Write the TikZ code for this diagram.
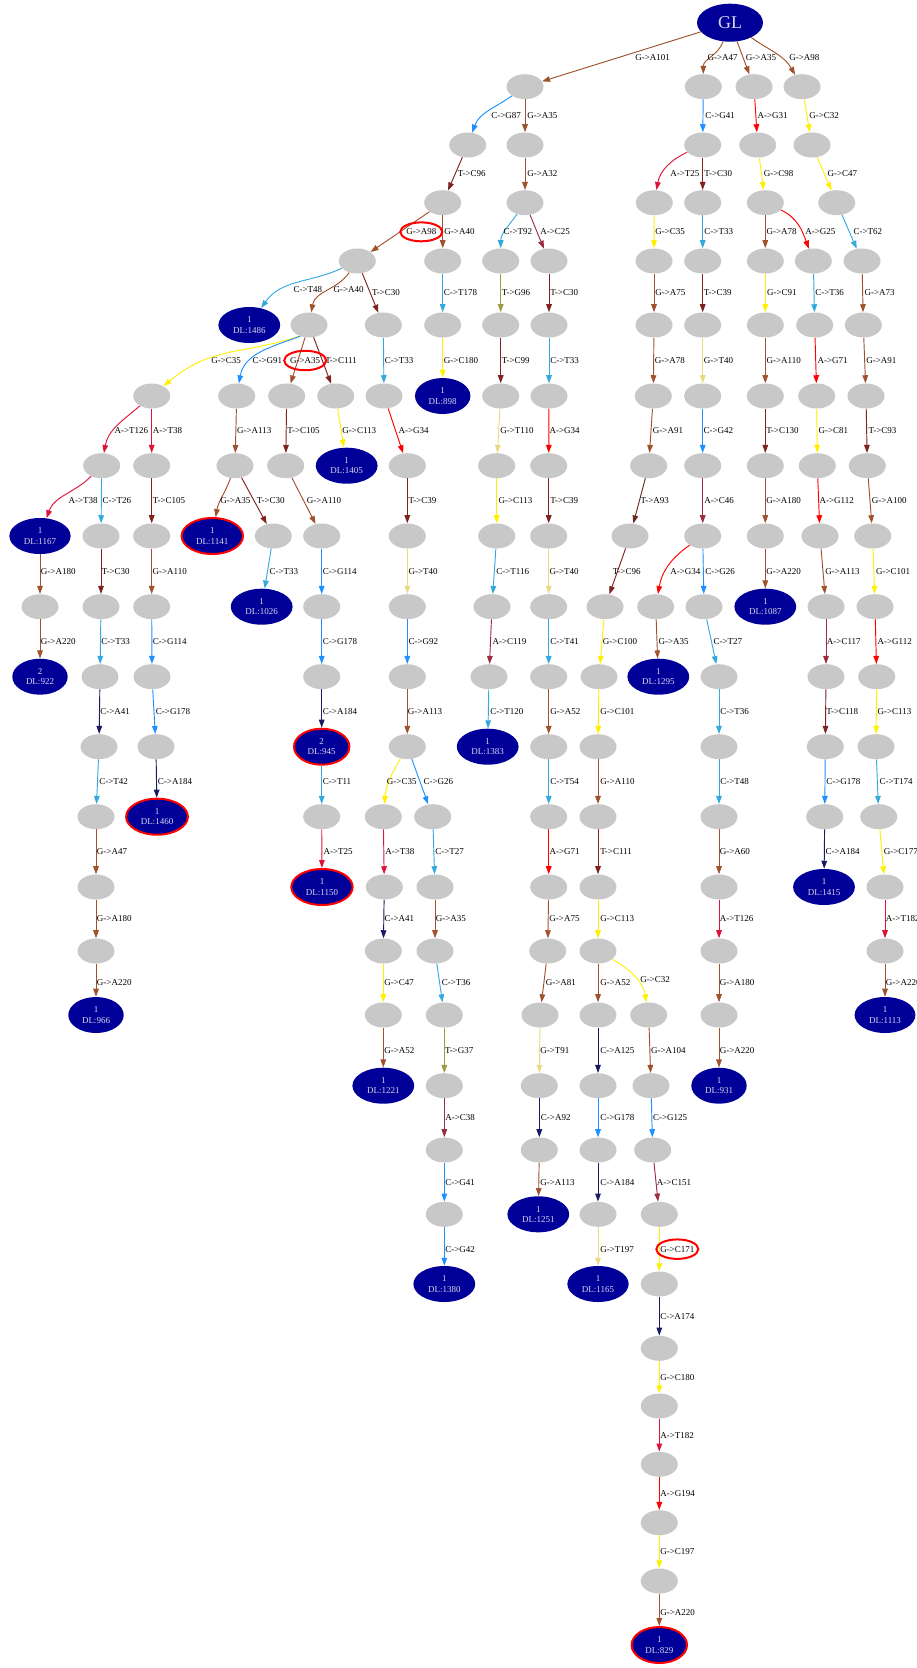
\documentclass[tikz,border=0pt]{standalone}
\usepackage{fontspec}
\setmainfont{Liberation Serif}
\usetikzlibrary{calc,shapes.geometric,arrows.meta}

\definecolor{navyfill}{RGB}{0,0,153}
\definecolor{nodegray}{RGB}{200,200,200}
\definecolor{dltext}{RGB}{215,215,232}
% one colour per substitution type
\definecolor{cGA}{HTML}{A0522D}
\definecolor{cCG}{HTML}{1E90FF}
\definecolor{cTC}{HTML}{7F2222}
\definecolor{cCT}{HTML}{33AADD}
\definecolor{cAT}{HTML}{DC143C}
\definecolor{cAG}{HTML}{FF0000}
\definecolor{cGC}{HTML}{FFF000}
\definecolor{cGT}{HTML}{E8DA84}
\definecolor{cAC}{HTML}{9B2D40}
\definecolor{cCA}{HTML}{1A1A66}
\definecolor{cTG}{HTML}{A09A40}
\definecolor{cTA}{HTML}{6B2A20}

\newcommand{\labfont}{\fontsize{6.75}{7.7}\selectfont}

% straight connector with its label beside the midpoint
\newcommand{\tEdge}[5]{%
  \draw[#4] (#1) -- (#2);
  \node[lbl] (l-#2) at ($(#1)!0.5!(#2)+(#5)$) {#3};}
% curved connector with its label at a given point
\newcommand{\cEdge}[6]{%
  \draw[#4] (#1) to[#6] (#2);
  \node[lbl] (l-#2) at (#5) {#3};}

\tikzset{
  gnode/.style={ellipse, fill=nodegray, minimum width=27.75pt, minimum height=18.75pt, inner sep=0pt},
  dlnode/.style={ellipse, fill=navyfill, text=dltext, font=\labfont, align=center,
                 inner xsep=4.2pt, inner ysep=0.5pt, minimum height=27pt},
  hitnode/.style={dlnode, draw=red, line width=1.5pt},
  glnode/.style={ellipse, fill=navyfill, text=dltext, minimum width=49.5pt, minimum height=28.5pt,
                 inner sep=0pt, font=\fontsize{13.5}{15}\selectfont},
  lbl/.style={anchor=west, inner sep=0pt, text=black, font=\labfont},
  ring/.style={draw=red, line width=1.5pt},
  conn/.style={line width=0.7pt, -{Triangle[length=6pt,width=4.2pt]}},
  eGA/.style={conn, draw=cGA}, eCG/.style={conn, draw=cCG}, eTC/.style={conn, draw=cTC},
  eCT/.style={conn, draw=cCT}, eAT/.style={conn, draw=cAT}, eAG/.style={conn, draw=cAG},
  eGC/.style={conn, draw=cGC}, eGT/.style={conn, draw=cGT}, eAC/.style={conn, draw=cAC},
  eCA/.style={conn, draw=cCA}, eTG/.style={conn, draw=cTG}, eTA/.style={conn, draw=cTA},
}

\begin{document}
\begin{tikzpicture}[x=0.75pt,y=-0.75pt]
\fill[white] (0,0) rectangle (917,1668);
\useasboundingbox (0,0) rectangle (917,1668);

% ---------- nodes ----------
\node[glnode] (gl) at (730,22.7) {GL};

\node[gnode] (n1a) at (525,86.7) {};
\node[gnode] (n1b) at (703.3,86.7) {};
\node[gnode] (n1c) at (754,86.7) {};
\node[gnode] (n1d) at (802,86.7) {};

\node[gnode] (n2a) at (467.7,145) {};
\node[gnode] (n2b) at (525,145) {};
\node[gnode] (n2c) at (702.7,145) {};
\node[gnode] (n2d) at (757.7,145) {};
\node[gnode] (n2e) at (812,145) {};

\node[gnode] (n3a) at (442.7,202.7) {};
\node[gnode] (n3b) at (525,202.7) {};
\node[gnode] (n3c) at (654.3,202.7) {};
\node[gnode] (n3d) at (702.7,202.7) {};
\node[gnode] (n3e) at (765.3,202.7) {};
\node[gnode] (n3f) at (836.7,202.7) {};

\node[gnode] (n4a) at (357.3,261) {};
\node[gnode] (n4b) at (442.7,261) {};
\node[gnode] (n4c) at (500.7,261) {};
\node[gnode] (n4d) at (549,261) {};
\node[gnode] (n4e) at (654,261) {};
\node[gnode] (n4f) at (702.7,261) {};
\node[gnode] (n4g) at (765.3,261) {};
\node[gnode] (n4h) at (813.3,261) {};
\node[gnode] (n4i) at (862,261) {};

\node[dlnode] (n5a) at (249.3,325) {1\\DL:1486};
\node[gnode] (n5b) at (309,325) {};
\node[gnode] (n5c) at (383.3,325) {};
\node[gnode] (n5d) at (442.7,325) {};
\node[gnode] (n5e) at (500.7,325) {};
\node[gnode] (n5f) at (549,325) {};
\node[gnode] (n5g) at (654,325) {};
\node[gnode] (n5h) at (702.7,325) {};
\node[gnode] (n5i) at (765.3,325) {};
\node[gnode] (n5j) at (814.7,325) {};
\node[gnode] (n5k) at (863.3,325) {};

\node[gnode] (n6a) at (151.7,396) {};
\node[gnode] (n6b) at (236.7,396) {};
\node[gnode] (n6c) at (286.7,396) {};
\node[gnode] (n6d) at (335.7,396) {};
\node[gnode] (n6e) at (384,396) {};
\node[dlnode] (n6f) at (442.7,396) {1\\DL:898};
\node[gnode] (n6g) at (500.7,396) {};
\node[gnode] (n6h) at (549,396) {};
\node[gnode] (n6i) at (653.3,396) {};
\node[gnode] (n6j) at (702.7,396) {};
\node[gnode] (n6k) at (765.3,396) {};
\node[gnode] (n6l) at (816.7,396) {};
\node[gnode] (n6m) at (866,396) {};

\node[gnode] (n7a) at (101.7,465.7) {};
\node[gnode] (n7b) at (151.7,465.7) {};
\node[gnode] (n7c) at (235,465.7) {};
\node[gnode] (n7d) at (285.7,465.7) {};
\node[dlnode] (n7e) at (346.7,465.7) {1\\DL:1405};
\node[gnode] (n7f) at (407.3,465.7) {};
\node[gnode] (n7g) at (496.7,465.7) {};
\node[gnode] (n7h) at (548.7,465.7) {};
\node[gnode] (n7i) at (648.7,465.7) {};
\node[gnode] (n7j) at (702.7,465.7) {};
\node[gnode] (n7k) at (765.3,465.7) {};
\node[gnode] (n7l) at (817.3,465.7) {};
\node[gnode] (n7m) at (867.3,465.7) {};

\node[dlnode] (n8a) at (40,536) {1\\DL:1167};
\node[gnode] (n8b) at (101,536) {};
\node[gnode] (n8c) at (151.7,536) {};
\node[hitnode] (n8d) at (212.3,536) {1\\DL:1141};
\node[gnode] (n8e) at (273.3,536) {};
\node[gnode] (n8f) at (321.7,536) {};
\node[gnode] (n8g) at (407.3,536) {};
\node[gnode] (n8h) at (496.7,536) {};
\node[gnode] (n8i) at (548.7,536) {};
\node[gnode] (n8j) at (630,536) {};
\node[gnode] (n8k) at (702.7,536) {};
\node[gnode] (n8l) at (765.3,536) {};
\node[gnode] (n8m) at (820,536) {};
\node[gnode] (n8n) at (872.7,536) {};

\node[gnode] (n9a) at (40,606.7) {};
\node[gnode] (n9b) at (101,606.7) {};
\node[gnode] (n9c) at (151.7,606.7) {};
\node[dlnode] (n9d) at (261.7,606.7) {1\\DL:1026};
\node[gnode] (n9e) at (321.7,606.7) {};
\node[gnode] (n9f) at (407.3,606.7) {};
\node[gnode] (n9g) at (492,606.7) {};
\node[gnode] (n9h) at (548.7,606.7) {};
\node[gnode] (n9i) at (605,606.7) {};
\node[gnode] (n9j) at (655.7,606.7) {};
\node[gnode] (n9k) at (704,606.7) {};
\node[dlnode] (n9l) at (765.3,606.7) {1\\DL:1087};
\node[gnode] (n9m) at (826,606.7) {};
\node[gnode] (n9n) at (875,606.7) {};

\node[dlnode] (n10a) at (40,676.7) {2\\DL:922};
\node[gnode] (n10b) at (100,676.7) {};
\node[gnode] (n10c) at (152,676.7) {};
\node[gnode] (n10d) at (321.7,676.7) {};
\node[gnode] (n10e) at (407.3,676.7) {};
\node[gnode] (n10f) at (489,676.7) {};
\node[gnode] (n10g) at (548.7,676.7) {};
\node[gnode] (n10h) at (599,676.7) {};
\node[dlnode] (n10i) at (658.3,676.7) {1\\DL:1295};
\node[gnode] (n10j) at (719,676.7) {};
\node[gnode] (n10k) at (826,676.7) {};
\node[gnode] (n10l) at (876.7,676.7) {};

\node[gnode] (n11a) at (99,746.7) {};
\node[gnode] (n11b) at (156,746.7) {};
\node[hitnode] (n11c) at (321.7,746.7) {2\\DL:945};
\node[gnode] (n11d) at (407.3,746.7) {};
\node[dlnode] (n11e) at (487.7,746.7) {1\\DL:1383};
\node[gnode] (n11f) at (548.7,746.7) {};
\node[gnode] (n11g) at (598,746.7) {};
\node[gnode] (n11h) at (719,746.7) {};
\node[gnode] (n11i) at (825.3,746.7) {};
\node[gnode] (n11j) at (876,746.7) {};

\node[gnode] (n12a) at (96,816.7) {};
\node[hitnode] (n12b) at (157,816.7) {1\\DL:1460};
\node[gnode] (n12c) at (321.7,816.7) {};
\node[gnode] (n12d) at (383.3,816.7) {};
\node[gnode] (n12e) at (432.7,816.7) {};
\node[gnode] (n12f) at (548.7,816.7) {};
\node[gnode] (n12g) at (598,816.7) {};
\node[gnode] (n12h) at (719,816.7) {};
\node[gnode] (n12i) at (824.7,816.7) {};
\node[gnode] (n12j) at (878.7,816.7) {};

\node[gnode] (n13a) at (96,887) {};
\node[hitnode] (n13b) at (322,887) {1\\DL:1150};
\node[gnode] (n13c) at (384.3,887) {};
\node[gnode] (n13d) at (435,887) {};
\node[gnode] (n13e) at (548.7,887) {};
\node[gnode] (n13f) at (598,887) {};
\node[gnode] (n13g) at (719,887) {};
\node[dlnode] (n13h) at (824,887) {1\\DL:1415};
\node[gnode] (n13i) at (885,887) {};

\node[gnode] (n14a) at (96,951) {};
\node[gnode] (n14b) at (383.3,951) {};
\node[gnode] (n14c) at (435,951) {};
\node[gnode] (n14d) at (547.7,951) {};
\node[gnode] (n14e) at (598,951) {};
\node[gnode] (n14f) at (719,951) {};
\node[gnode] (n14g) at (885,951) {};

\node[dlnode] (n15a) at (96,1015) {1\\DL:966};
\node[gnode] (n15b) at (383.3,1015) {};
\node[gnode] (n15c) at (444.3,1015) {};
\node[gnode] (n15d) at (540,1015) {};
\node[gnode] (n15e) at (598,1015) {};
\node[gnode] (n15f) at (648.7,1015) {};
\node[gnode] (n15g) at (719,1015) {};
\node[dlnode] (n15h) at (885,1015) {1\\DL:1113};

\node[dlnode] (n16a) at (383.3,1085.7) {1\\DL:1221};
\node[gnode] (n16b) at (444.3,1085.7) {};
\node[gnode] (n16c) at (539.3,1085.7) {};
\node[gnode] (n16d) at (598,1085.7) {};
\node[gnode] (n16e) at (651,1085.7) {};
\node[dlnode] (n16f) at (719,1085.7) {1\\DL:931};

\node[gnode] (n17a) at (444.3,1150) {};
\node[gnode] (n17b) at (539.3,1150) {};
\node[gnode] (n17c) at (598,1150) {};
\node[gnode] (n17d) at (652.7,1150) {};

\node[gnode] (n18a) at (444.3,1214.3) {};
\node[dlnode] (n18b) at (538.3,1214.3) {1\\DL:1251};
\node[gnode] (n18c) at (598,1214.3) {};
\node[gnode] (n18d) at (659.3,1214.3) {};

\node[dlnode] (n19a) at (444.3,1284) {1\\DL:1380};
\node[dlnode] (n19b) at (598,1284) {1\\DL:1165};
\node[gnode] (n19c) at (659.3,1284) {};

\node[gnode] (n20) at (659.3,1348.3) {};
\node[gnode] (n21) at (659.3,1406) {};
\node[gnode] (n22) at (659.3,1464.3) {};
\node[gnode] (n23) at (659.3,1522.7) {};
\node[gnode] (n24) at (659.3,1581) {};
\node[hitnode] (n25) at (659.3,1645) {1\\DL:829};

% ---------- connectors ----------
\tEdge{gl}{n1a}{G->A101}{eGA}{7.5,3}
\cEdge{gl}{n1b}{G->A47}{eGA}{707.3,57.7}{out=250,in=90}
\tEdge{gl}{n1c}{G->A35}{eGA}{3.7,3}
\cEdge{gl}{n1d}{G->A98}{eGA}{789,57.7}{out=-35,in=120}

\cEdge{n1a}{n2a}{C->G87}{eCG}{491,116}{out=215,in=70}
\tEdge{n1a}{n2b}{G->A35}{eGA}{2,0}
\tEdge{n1b}{n2c}{C->G41}{eCG}{2,0}
\tEdge{n1c}{n2d}{A->G31}{eAG}{1.5,0}
\tEdge{n1d}{n2e}{G->C32}{eGC}{2,0}

\tEdge{n2a}{n3a}{T->C96}{eTC}{2.5,0}
\tEdge{n2b}{n3b}{G->A32}{eGA}{2,0}
\cEdge{n2c}{n3c}{A->T25}{eAT}{670,174}{out=205,in=80}
\tEdge{n2c}{n3d}{T->C30}{eTC}{1.5,0}
\tEdge{n2d}{n3e}{G->C98}{eGC}{2,0}
\tEdge{n2e}{n3f}{G->C47}{eGC}{3,0}

\tEdge{n3a}{n4a}{G->A98}{eGA}{6,0}
\tEdge{n3a}{n4b}{G->A40}{eGA}{1.5,0}
\cEdge{n3b}{n4c}{C->T92}{eCT}{503.3,232}{out=235,in=90}
\tEdge{n3b}{n4d}{A->C25}{eAC}{3,0}
\tEdge{n3c}{n4e}{G->C35}{eGC}{1,0}
\tEdge{n3d}{n4f}{C->T33}{eCT}{1.5,0}
\tEdge{n3e}{n4g}{G->A78}{eGA}{1,0}
\cEdge{n3e}{n4h}{A->G25}{eAG}{805,232}{out=-25,in=110}
\tEdge{n3f}{n4i}{C->T62}{eCT}{4,0}

\cEdge{n4a}{n5a}{C->T48}{eCT}{293.3,290}{out=205,in=55}
\cEdge{n4a}{n5b}{G->A40}{eGA}{333.3,290}{out=235,in=80}
\tEdge{n4a}{n5c}{T->C30}{eTC}{1.5,0}
\tEdge{n4b}{n5d}{C->T178}{eCT}{1,0}
\tEdge{n4c}{n5e}{T->G96}{eTG}{1,0}
\tEdge{n4d}{n5f}{T->C30}{eTC}{1,0}
\tEdge{n4e}{n5g}{G->A75}{eGA}{1,0}
\tEdge{n4f}{n5h}{T->C39}{eTC}{1,0}
\tEdge{n4g}{n5i}{G->C91}{eGC}{1.5,0}
\tEdge{n4h}{n5j}{C->T36}{eCT}{1,0}
\tEdge{n4i}{n5k}{G->A73}{eGA}{1.7,0}

\cEdge{n5b.230}{n6a}{G->C35}{eGC}{211,361}{out=198,in=40,looseness=1.1}
\cEdge{n5b.232}{n6b}{C->G91}{eCG}{252.3,361}{out=200,in=80}
\tEdge{n5b}{n6c}{G->A35}{eGA}{-8,0}
\tEdge{n5b}{n6d}{T->C111}{eTC}{2.7,0}
\tEdge{n5c}{n6e}{C->T33}{eCT}{1,0}
\tEdge{n5d}{n6f}{G->C180}{eGC}{1,0}
\tEdge{n5e}{n6g}{T->C99}{eTC}{1,0}
\tEdge{n5f}{n6h}{C->T33}{eCT}{1,0}
\tEdge{n5g}{n6i}{G->A78}{eGA}{1,0}
\tEdge{n5h}{n6j}{G->T40}{eGT}{1,0}
\tEdge{n5i}{n6k}{G->A110}{eGA}{1,0}
\tEdge{n5j}{n6l}{A->G71}{eAG}{1.6,0}
\tEdge{n5k}{n6m}{G->A91}{eGA}{1.4,0}

\cEdge{n6a}{n7a}{A->T126}{eAT}{114.3,430.7}{out=220,in=80}
\tEdge{n6a}{n7b}{A->T38}{eAT}{1,0}
\tEdge{n6b}{n7c}{G->A113}{eGA}{1,0}
\tEdge{n6c}{n7d}{T->C105}{eTC}{1,0}
\tEdge{n6d}{n7e}{G->C113}{eGC}{1,0}
\tEdge{n6e}{n7f}{A->G34}{eAG}{2.7,0}
\tEdge{n6g}{n7g}{G->T110}{eGT}{1.3,0}
\tEdge{n6h}{n7h}{A->G34}{eAG}{0.5,0}
\tEdge{n6i}{n7i}{G->A91}{eGA}{1.7,0}
\tEdge{n6j}{n7j}{C->G42}{eCG}{0.6,0}
\tEdge{n6k}{n7k}{T->C130}{eTC}{0.7,0}
\tEdge{n6l}{n7l}{G->C81}{eGC}{1.3,0}
\tEdge{n6m}{n7m}{T->C93}{eTC}{1.7,0}

\cEdge{n7a}{n8a}{A->T38}{eAT}{68.3,501}{out=225,in=70}
\tEdge{n7a}{n8b}{C->T26}{eCT}{1,0}
\tEdge{n7b}{n8c}{T->C105}{eTC}{1,0}
\cEdge{n7c}{n8d}{G->A35}{eGA}{220,501}{out=250,in=80}
\tEdge{n7c}{n8e}{T->C30}{eTC}{2.5,0}
\tEdge{n7d}{n8f}{G->A110}{eGA}{3,0}
\tEdge{n7f}{n8g}{T->C39}{eTC}{1,0}
\tEdge{n7g}{n8h}{G->C113}{eGC}{1.6,0}
\tEdge{n7h}{n8i}{T->C39}{eTC}{1.3,0}
\tEdge{n7i}{n8j}{T->A93}{eTA}{1,0}
\tEdge{n7j}{n8k}{A->C46}{eAC}{1.3,0}
\tEdge{n7k}{n8l}{G->A180}{eGA}{0.7,0}
\tEdge{n7l}{n8m}{A->G112}{eAG}{0.7,0}
\tEdge{n7m}{n8n}{G->A100}{eGA}{1.7,0}

\tEdge{n8a}{n9a}{G->A180}{eGA}{0.7,0}
\tEdge{n8b}{n9b}{T->C30}{eTC}{0.7,0}
\tEdge{n8c}{n9c}{G->A110}{eGA}{0.6,0}
\tEdge{n8e}{n9d}{C->T33}{eCT}{1.8,0}
\tEdge{n8f}{n9e}{C->G114}{eCG}{1,0}
\tEdge{n8g}{n9f}{G->T40}{eGT}{1,0}
\tEdge{n8h}{n9g}{C->T116}{eCT}{1.7,0}
\tEdge{n8i}{n9h}{G->T40}{eGT}{0.6,0}
\tEdge{n8j}{n9i}{T->C96}{eTC}{-5,0}
\cEdge{n8k}{n9j}{A->G34}{eAG}{670,571.7}{out=215,in=80}
\tEdge{n8k}{n9k}{C->G26}{eCG}{1.7,0}
\tEdge{n8l}{n9l}{G->A220}{eGA}{0.7,0}
\tEdge{n8m}{n9m}{G->A113}{eGA}{2,0}
\tEdge{n8n}{n9n}{G->C101}{eGC}{2,0}

\tEdge{n9a}{n10a}{G->A220}{eGA}{0.7,0}
\tEdge{n9b}{n10b}{C->T33}{eCT}{0.5,0}
\tEdge{n9c}{n10c}{C->G114}{eCG}{0.85,0}
\tEdge{n9e}{n10d}{C->G178}{eCG}{1,0}
\tEdge{n9f}{n10e}{C->G92}{eCG}{1,0}
\tEdge{n9g}{n10f}{A->C119}{eAC}{1.8,0}
\tEdge{n9h}{n10g}{C->T41}{eCT}{1.3,0}
\tEdge{n9i}{n10h}{G->C100}{eGC}{0.7,0}
\tEdge{n9j}{n10i}{G->A35}{eGA}{1.3,0}
\tEdge{n9k}{n10j}{C->T27}{eCT}{1.8,0}
\tEdge{n9m}{n10k}{A->C117}{eAC}{0.7,0}
\tEdge{n9n}{n10l}{A->G112}{eAG}{1.5,0}

\tEdge{n10b}{n11a}{C->A41}{eCA}{0.5,0}
\tEdge{n10c}{n11b}{C->G178}{eCG}{1.7,0}
\tEdge{n10d}{n11c}{C->A184}{eCA}{1,0}
\tEdge{n10e}{n11d}{G->A113}{eGA}{0.4,0}
\tEdge{n10f}{n11e}{C->T120}{eCT}{1.7,0}
\tEdge{n10g}{n11f}{G->A52}{eGA}{1.3,0}
\tEdge{n10h}{n11g}{G->C101}{eGC}{1.5,0}
\tEdge{n10j}{n11h}{C->T36}{eCT}{1,0}
\tEdge{n10k}{n11i}{T->C118}{eTC}{0.4,0}
\tEdge{n10l}{n11j}{G->C113}{eGC}{1,0}

\tEdge{n11a}{n12a}{C->T42}{eCT}{1.5,0}
\tEdge{n11b}{n12b}{C->A184}{eCA}{1.2,0}
\tEdge{n11c}{n12c}{C->T11}{eCT}{1,0}
\cEdge{n11d}{n12d}{G->C35}{eGC}{386.7,781.7}{out=240,in=85}
\tEdge{n11d}{n12e}{C->G26}{eCG}{3.3,0}
\tEdge{n11f}{n12f}{C->T54}{eCT}{1.3,0}
\tEdge{n11g}{n12g}{G->A110}{eGA}{2,0}
\tEdge{n11h}{n12h}{C->T48}{eCT}{1,0}
\tEdge{n11i}{n12i}{C->G178}{eCG}{1,0}
\tEdge{n11j}{n12j}{C->T174}{eCT}{2,0}

\tEdge{n12a}{n13a}{G->A47}{eGA}{0.7,0}
\tEdge{n12c}{n13b}{A->T25}{eAT}{1.5,0}
\tEdge{n12d}{n13c}{A->T38}{eAT}{1.2,0}
\tEdge{n12e}{n13d}{C->T27}{eCT}{1.2,0}
\tEdge{n12f}{n13e}{A->G71}{eAG}{0.6,0}
\tEdge{n12g}{n13f}{T->C111}{eTC}{2,0}
\tEdge{n12h}{n13g}{G->A60}{eGA}{0.5,0}
\tEdge{n12i}{n13h}{C->A184}{eCA}{1,0}
\tEdge{n12j}{n13i}{G->C177}{eGC}{1.8,0}

\tEdge{n13a}{n14a}{G->A180}{eGA}{0.7,0}
\tEdge{n13c}{n14b}{C->A41}{eCA}{0.5,0}
\tEdge{n13d}{n14c}{G->A35}{eGA}{0.5,0}
\tEdge{n13e}{n14d}{G->A75}{eGA}{1,0}
\tEdge{n13f}{n14e}{G->C113}{eGC}{2,0}
\tEdge{n13g}{n14f}{A->T126}{eAT}{0.5,0}
\tEdge{n13i}{n14g}{A->T182}{eAT}{0.7,0}

\tEdge{n14a}{n15a}{G->A220}{eGA}{0.7,0}
\tEdge{n14b}{n15b}{G->C47}{eGC}{0.7,0}
\tEdge{n14c}{n15c}{C->T36}{eCT}{2,0}
\tEdge{n14d}{n15d}{G->A81}{eGA}{1.8,0}
\tEdge{n14e}{n15e}{G->A52}{eGA}{2,0}
\cEdge{n14e}{n15f}{G->C32}{eGC}{640,980}{out=-30,in=100}
\tEdge{n14f}{n15g}{G->A180}{eGA}{0.5,0}
\tEdge{n14g}{n15h}{G->A220}{eGA}{0.7,0}

\tEdge{n15b}{n16a}{G->A52}{eGA}{0.7,0}
\tEdge{n15c}{n16b}{T->G37}{eTG}{0.5,0}
\tEdge{n15d}{n16c}{G->T91}{eGT}{0.5,0}
\tEdge{n15e}{n16d}{C->A125}{eCA}{2,0}
\tEdge{n15f}{n16e}{G->A104}{eGA}{0.9,0}
\tEdge{n15g}{n16f}{G->A220}{eGA}{0.5,0}

\tEdge{n16b}{n17a}{A->C38}{eAC}{0.7,0}
\tEdge{n16c}{n17b}{C->A92}{eCA}{1.4,0}
\tEdge{n16d}{n17c}{C->G178}{eCG}{2,0}
\tEdge{n16e}{n17d}{C->G125}{eCG}{0.9,0}

\tEdge{n17a}{n18a}{C->G41}{eCG}{0.7,0}
\tEdge{n17b}{n18b}{G->A113}{eGA}{1.2,0}
\tEdge{n17c}{n18c}{C->A184}{eCA}{2,0}
\tEdge{n17d}{n18d}{A->C151}{eAC}{0.7,0}

\tEdge{n18a}{n19a}{C->G42}{eCG}{0.7,0}
\tEdge{n18c}{n19b}{G->T197}{eGT}{2,0}
\tEdge{n18d}{n19c}{G->C171}{eGC}{0.7,0}

\tEdge{n19c}{n20}{C->A174}{eCA}{0.7,0}
\tEdge{n20}{n21}{G->C180}{eGC}{0.7,0}
\tEdge{n21}{n22}{A->T182}{eAT}{0.7,0}
\tEdge{n22}{n23}{A->G194}{eAG}{0.7,0}
\tEdge{n23}{n24}{G->C197}{eGC}{0.7,0}
\tEdge{n24}{n25}{G->A220}{eGA}{0.7,0}

% ---------- ringed labels ----------
\draw[ring] (l-n4a.center) ellipse [x radius=15.75pt, y radius=7.1pt];
\draw[ring] (l-n6c.center) ellipse [x radius=15.75pt, y radius=7.3pt];
\draw[ring] (l-n19c.center) ellipse [x radius=15.75pt, y radius=7.3pt];
\end{tikzpicture}
\end{document}
